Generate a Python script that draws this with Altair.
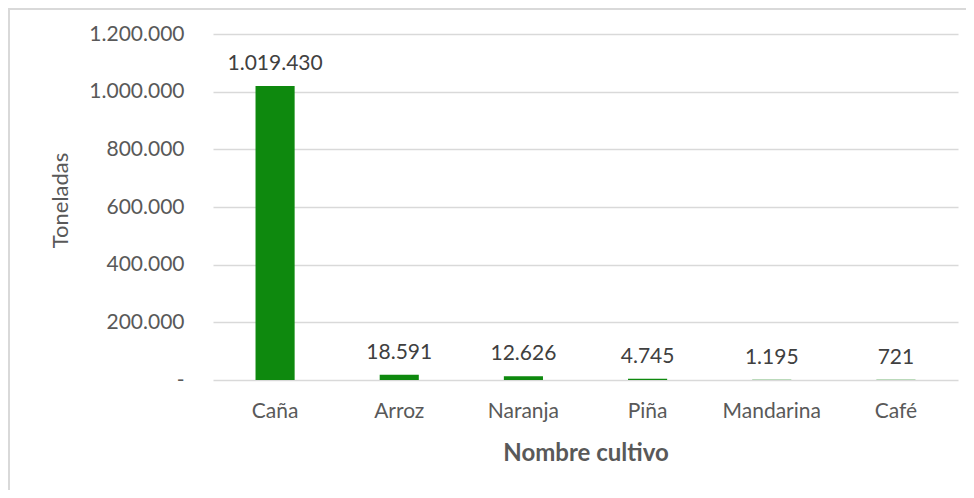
import altair as alt
import pandas as pd

cultivos = ["Caña", "Arroz", "Naranja", "Piña", "Mandarina", "Café"]
toneladas = [1019430, 18591, 12626, 4745, 1195, 721]
etiquetas = ["1.019.430", "18.591", "12.626", "4.745", "1.195", "721"]
y_ticks = [0, 200000, 400000, 600000, 800000, 1000000, 1200000]

df = pd.DataFrame({"cultivo": cultivos, "t": toneladas, "lab": etiquetas})

FONT = "Lato"
GREY = "#595959"

x = alt.X("cultivo:N", sort=cultivos, title="Nombre cultivo",
          scale=alt.Scale(paddingInner=0.685, paddingOuter=0.3425),
          axis=alt.Axis(labelAngle=0, labelFont=FONT, labelFontSize=21, labelColor=GREY,
                        labelPadding=20, ticks=False, domain=False,
                        titleFont=FONT, titleFontSize=24, titleFontWeight="bold",
                        titleColor=GREY, titlePadding=20))
y = alt.Y("t:Q", title="Toneladas",
          scale=alt.Scale(domain=[0, 1200000], nice=False),
          axis=alt.Axis(values=y_ticks, labelExpr="datum.value == 0 ? '-' : replace(format(datum.value, ',d'), /,/g, '.')",
                        labelFont=FONT, labelFontSize=21, labelColor=GREY, labelPadding=29,
                        ticks=False, domain=False, grid=True, gridColor="#d9d9d9", gridWidth=1.5,
                        titleFont=FONT, titleFontSize=22, titleFontWeight="normal",
                        titleColor=GREY, titlePadding=16, titleY=166))

bars = alt.Chart(df).mark_bar(color="#0e890e").encode(x=x, y=y)
text = alt.Chart(df).mark_text(dy=-22, font=FONT, fontSize=21, color="#404040").encode(
    x=alt.X("cultivo:N", sort=cultivos), y="t:Q", text="lab:N")
border = alt.Chart(df).mark_rect(fill=None, stroke="#d9d9d9", strokeWidth=2).encode(
    x=alt.value(-204), x2=alt.value(800), y=alt.value(-25), y2=alt.value(500))

chart = alt.layer(border, bars, text).properties(
    width=745, height=346,
    autosize=alt.AutoSizeParams(type="none"),
    padding={"left": 205, "top": 26, "right": 8, "bottom": 110},
    background="white",
).configure_view(stroke=None)

chart.save("out.html", embed_options={"renderer": "svg", "actions": False})
